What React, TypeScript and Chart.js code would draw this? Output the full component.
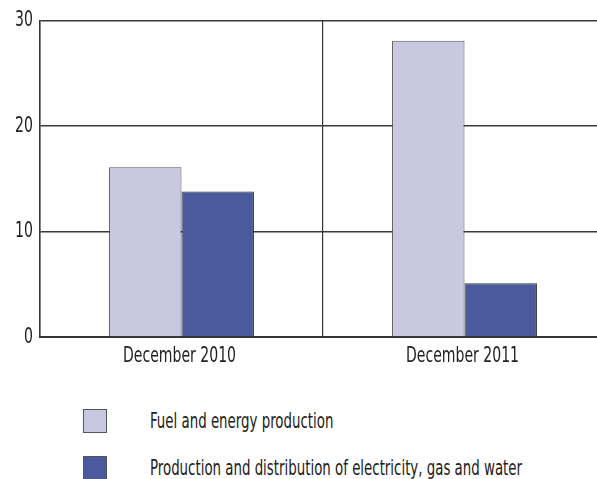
import React, { useEffect, useRef } from "react";
import { Chart, registerables } from "chart.js";

Chart.register(...registerables);

const categories = ["December 2010", "December 2011"];
const seriesNames = ["Fuel and energy production", "Production and distribution of electricity, gas and water"];
const fuelValues = [16.1, 28.1];
const electricityValues = [13.8, 5.1];
const seriesColors = ["#c8c9e1", "#4b5a9c"];
const yTicks = [0, 10, 20, 30];

const FONT = "'DejaVu Sans Condensed', 'DejaVu Sans', sans-serif";
const SQUEEZE = 0.71;
const LEGEND_SQUEEZE = 0.675;
const TEXT_COLOR = "#222";

const squeezedLabels = {
  id: "squeezedLabels",
  afterDraw(chart: any) {
    const ctx = chart.ctx;
    const xs = chart.scales.x;
    const ys = chart.scales.y;
    ctx.save();
    ctx.fillStyle = TEXT_COLOR;
    ctx.font = `22px ${FONT}`;
    ctx.textBaseline = "middle";
    ys.ticks.forEach((t: any) => {
      const py = ys.getPixelForValue(t.value);
      ctx.save();
      ctx.translate(ys.right - 7, py);
      ctx.scale(SQUEEZE, 1);
      ctx.textAlign = "right";
      ctx.fillText(String(t.value), 0, 0);
      ctx.restore();
    });
    xs.ticks.forEach((t: any, i: number) => {
      const px = xs.getPixelForTick(i);
      ctx.save();
      ctx.translate(px - 2, xs.top + 19);
      ctx.scale(SQUEEZE, 1);
      ctx.textAlign = "center";
      ctx.fillText(String(categories[i]), 0, 0);
      ctx.restore();
    });
    ctx.restore();
  },
};

export default function App() {
  const ref = useRef<HTMLCanvasElement | null>(null);
  useEffect(() => {
    if (!ref.current) return;
    const chart = new Chart(ref.current, {
      type: "bar",
      data: {
        labels: categories,
        datasets: [
          {
            label: seriesNames[0],
            data: fuelValues,
            backgroundColor: seriesColors[0],
            borderColor: "#555",
            borderWidth: 1,
          },
          {
            label: seriesNames[1],
            data: electricityValues,
            backgroundColor: seriesColors[1],
            borderColor: "#333",
            borderWidth: 1,
          },
        ],
      },
      options: {
        animation: false,
        responsive: false,
        maintainAspectRatio: false,
        layout: { padding: { top: 20, right: 14, left: 0, bottom: 0 } },
        datasets: { bar: { categoryPercentage: 0.512, barPercentage: 1 } },
        plugins: { legend: { display: false }, tooltip: { enabled: false } },
        scales: {
          x: {
            offset: true,
            grid: { display: true, offset: true, color: "#333", lineWidth: 1.2, drawTicks: false },
            border: { display: true, color: "#333", width: 2 },
            ticks: { color: "rgba(0,0,0,0)", font: { family: FONT, size: 19 }, padding: 8 },
            afterFit: (s: any) => { s.height = 43; },
          },
          y: {
            min: 0,
            max: 30,
            afterBuildTicks: (s: any) => { s.ticks = yTicks.map((v) => ({ value: v })); },
            grid: { color: "#3a3a3a", lineWidth: 1.5, drawTicks: false },
            border: { display: true, color: "#333", width: 1.5 },
            ticks: { color: "rgba(0,0,0,0)", font: { family: FONT, size: 21 }, padding: 8 },
            afterFit: (s: any) => { s.width = 40; },
          },
        },
      },
      plugins: [squeezedLabels],
    });
    return () => chart.destroy();
  }, []);

  const legendItem = (i: number, top: number) => (
    <div style={{ position: "absolute", left: 83, top, height: 23, display: "flex", alignItems: "center" }}>
      <div style={{ width: 22, height: 22, background: seriesColors[i], border: "1px solid #555", flex: "none" }} />
      <span
        style={{
          marginLeft: 43,
          fontFamily: FONT,
          fontSize: 22,
          color: TEXT_COLOR,
          whiteSpace: "nowrap",
          display: "inline-block",
          transform: `scaleX(${LEGEND_SQUEEZE})`,
          transformOrigin: "left center",
        }}
      >
        {seriesNames[i]}
      </span>
    </div>
  );

  return (
    <div style={{ position: "fixed", left: 0, top: 0, width: 597, height: 479, overflow: "hidden", background: "#fff" }}>
      <canvas ref={ref} width={620} height={380} style={{ position: "absolute", left: 0, top: 0 }} />
      {legendItem(0, 409)}
      {legendItem(1, 456)}
    </div>
  );
}
